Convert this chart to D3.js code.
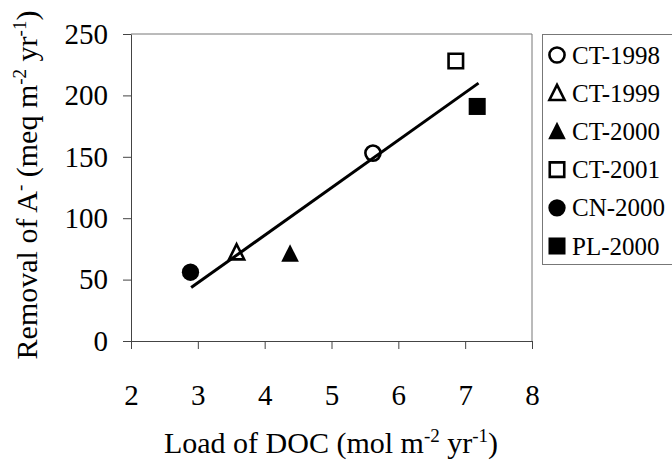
<!DOCTYPE html>
<html>
<head>
<meta charset="utf-8">
<script src="https://cdn.jsdelivr.net/npm/d3@7"></script>
<style>
  body { margin: 0; background: #fff; }
  svg text { font-family: "Liberation Serif", "Times New Roman", Times, serif; fill: #000; }
</style>
</head>
<body>
<div id="chart"></div>
<script>
var width = 672, height = 460;

// data
var sites = ["CT-1998", "CT-1999", "CT-2000", "CT-2001", "CN-2000", "PL-2000"];
var docLoad = [5.62, 3.58, 4.38, 6.86, 2.89, 7.18];
var removal = [153, 72, 71, 228, 56, 191];
var symbolKind = ["circle", "triangle", "triangle", "square", "circle", "square"];
var symbolFilled = [false, false, true, false, true, true];
var fitX = [2.9, 7.2];
var fitY = [43.5, 210];
var xTicks = [2, 3, 4, 5, 6, 7, 8];
var yTicks = [0, 50, 100, 150, 200, 250];

var serif = "'Liberation Serif', 'Times New Roman', serif";
var margin = {top: 34, right: 140, bottom: 119, left: 131};

var svg = d3.select("#chart")
  .append("svg")
  .attr("width", width)
  .attr("height", height);

var xScale = d3.scaleLinear()
  .domain([2, 8])
  .range([margin.left, width - margin.right]);

var yScale = d3.scaleLinear()
  .domain([0, 250])
  .range([height - margin.bottom, margin.top]);

// custom triangle (a bit taller than equilateral, like the scan)
var tallTriangle = {
  draw: function(context, size) {
    var h = Math.sqrt(size);
    context.moveTo(0, -h * 0.55);
    context.lineTo(h * 0.5, h * 0.45);
    context.lineTo(-h * 0.5, h * 0.45);
    context.closePath();
  }
};

function symbolPath(kind, filled) {
  if (kind == "circle") return d3.symbol().type(d3.symbolCircle).size(filled ? 235 : 180)();
  if (kind == "square") return d3.symbol().type(d3.symbolSquare).size(filled ? 290 : 210)();
  return d3.symbol().type(tallTriangle).size(filled ? 310 : 230)();
}

// frame (top and right)
svg.append("line")
  .attr("x1", xScale(2)).attr("x2", xScale(8))
  .attr("y1", yScale(250)).attr("y2", yScale(250))
  .style("stroke", "#777").style("stroke-width", 1);
svg.append("line")
  .attr("x1", xScale(8)).attr("x2", xScale(8))
  .attr("y1", yScale(250)).attr("y2", yScale(0))
  .style("stroke", "#777").style("stroke-width", 1);

// Y axis
var yAxis = d3.axisLeft(yScale)
  .tickValues(yTicks)
  .tickFormat(d3.format("d"))
  .tickSize(8)
  .tickPadding(15)
  .tickSizeOuter(0);

var yG = svg.append("g")
  .attr("transform", `translate(${margin.left},0)`)
  .call(yAxis)
  .attr("font-family", serif)
  .attr("font-size", 29);
yG.selectAll("path, line").style("stroke", "#444");

// X axis
var xAxis = d3.axisBottom(xScale)
  .tickValues(xTicks)
  .tickFormat(d3.format("d"))
  .tickSize(8)
  .tickPadding(35)
  .tickSizeOuter(0);

var xG = svg.append("g")
  .attr("transform", `translate(0,${height - margin.bottom})`)
  .call(xAxis)
  .attr("font-family", serif)
  .attr("font-size", 29);
xG.selectAll("path, line").style("stroke", "#444");

// regression line
var fitLine = d3.line()
  .x(d => xScale(d[0]))
  .y(d => yScale(d[1]));

svg.append("path")
  .datum(d3.zip(fitX, fitY))
  .attr("d", fitLine)
  .style("fill", "none")
  .style("stroke", "#000")
  .style("stroke-width", 3);

// points
svg.selectAll(".dot")
  .data(sites)
  .enter()
  .append("path")
  .attr("class", "dot")
  .attr("transform", (d, i) => `translate(${xScale(docLoad[i])},${yScale(removal[i])})`)
  .attr("d", (d, i) => symbolPath(symbolKind[i], symbolFilled[i]))
  .style("fill", (d, i) => symbolFilled[i] ? "#000" : "none")
  .style("stroke", "#000")
  .style("stroke-width", (d, i) => symbolFilled[i] ? 0 : 2.6);

// title with superscripts; the piece after a superscript drops back down
function addTitle(sel, parts, supSize) {
  var raised = false;
  parts.forEach(function(p) {
    if (p.sup) {
      sel.append("tspan").attr("dy", -11).style("font-size", supSize + "px").text(p.sup);
      raised = true;
    } else {
      var ts = sel.append("tspan").text(p.t);
      if (raised) ts.attr("dy", 11);
      raised = false;
    }
  });
}

var xTitle = svg.append("text")
  .attr("x", 331)
  .attr("y", 453)
  .attr("text-anchor", "middle")
  .attr("font-family", serif)
  .style("font-size", "30px");
addTitle(xTitle, [{t: "Load of DOC (mol m"}, {sup: "-2"}, {t: " yr"}, {sup: "-1"}, {t: ")"}], 19);

var yTitle = svg.append("text")
  .attr("transform", "translate(37,185) rotate(-90)")
  .attr("text-anchor", "middle")
  .attr("font-family", serif)
  .style("font-size", "30px");
addTitle(yTitle, [{t: "Removal of A"}, {sup: "-"}, {t: " (meq m"}, {sup: "-2"}, {t: " yr"}, {sup: "-1"}, {t: ")"}], 19);

// legend
var legendG = svg.append("g")
  .attr("class", "legend");

legendG.append("rect")
  .attr("x", 542.5)
  .attr("y", 34.5)
  .attr("width", 150)
  .attr("height", 230)
  .style("fill", "#fff")
  .style("stroke", "#777")
  .style("stroke-width", 1);

var legendRow = d3.scaleLinear()
  .domain([0, 5])
  .range([55, 246]);

var rows = legendG.selectAll(".row")
  .data(sites)
  .enter()
  .append("g")
  .attr("class", "row")
  .attr("transform", (d, i) => `translate(0,${legendRow(i)})`);

rows.append("path")
  .attr("transform", "translate(557,0)")
  .attr("d", (d, i) => symbolPath(symbolKind[i], symbolFilled[i]))
  .style("fill", (d, i) => symbolFilled[i] ? "#000" : "none")
  .style("stroke", "#000")
  .style("stroke-width", (d, i) => symbolFilled[i] ? 0 : 2.6);

rows.append("text")
  .attr("x", 572)
  .attr("y", 8.5)
  .attr("font-family", serif)
  .style("font-size", "25px")
  .text(d => d);
</script>
</body>
</html>
